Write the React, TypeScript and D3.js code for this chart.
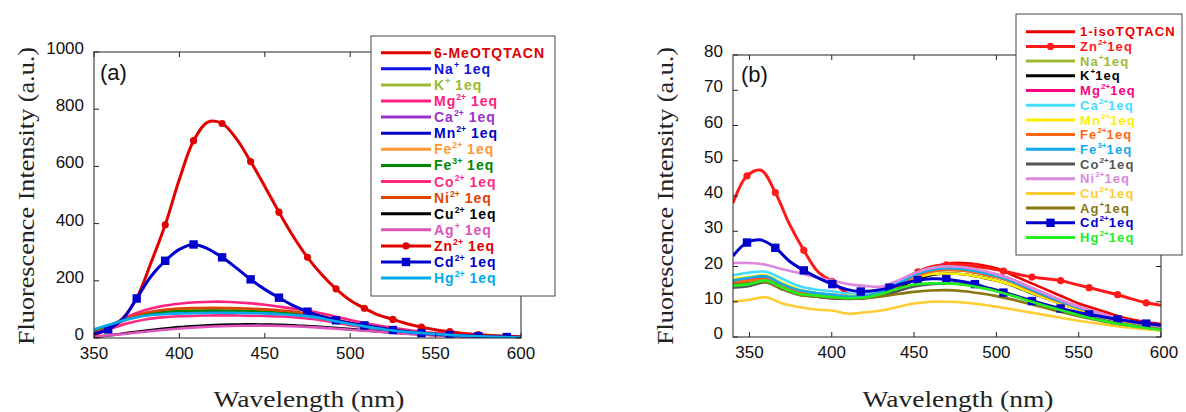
import React from "react";
import * as d3 from "d3";

// ---------------- Panel (a) data ----------------
const wlA = [350,360,370,380,390,400,410,420,430,440,450,460,470,480,490,500,510,520,530,540,550,560,570,580,590,600];
const wlAm = [350,358.3,366.7,375,383.3,391.7,400,408.3,416.7,425,433.3,441.7,450,458.3,466.7,475,483.3,491.7,500,508.3,516.7,525,533.3,541.7,550,558.3,566.7,575,583.3,591.7,600];

const aBase = [25,46,67,82,88,91,92,93,93,92,90,86,81,74,62,50,40,31,24,18,14,10,7,5,3,2];
const aNa = [25,46,67,82,88,91,92,93,93,92,90,86,81,74,62,50,40,31,24,18,14,10,7,5,3,2];
const aK = [22,44,66,80,86,89,90,91,91,90,88,85,80,73,61,49,39,30,23,18,14,10,7,5,3,2];
const aMg = [20,45,75,98,112,120,125,127,126,122,116,108,100,90,77,63,51,40,31,23,17,13,9,6,4,3];
const aCa = [24,46,68,83,90,93,94,95,95,94,92,88,83,75,63,51,41,32,24,18,14,10,7,5,3,2];
const aMn = [26,47,67,81,87,90,91,92,92,91,89,86,81,74,62,50,40,31,24,18,14,10,7,5,3,2];
const aFe2 = [20,42,68,86,95,99,101,102,101,99,96,92,86,78,65,52,41,32,24,18,14,10,7,5,3,2];
const aFe3 = [22,44,68,84,91,94,95,96,95,94,92,88,83,75,63,51,41,32,24,18,14,10,7,5,3,2];
const aCo = [15,33,52,65,72,76,78,79,79,78,77,75,71,65,55,45,36,28,22,16,12,9,6,4,3,2];
const aNi = [18,40,68,88,98,103,105,106,105,103,100,96,90,81,67,53,42,33,25,19,14,10,7,5,3,2];
const aCu = [3,10,18,25,32,38,42,45,47,48,47,46,43,40,36,31,26,21,17,13,10,7,5,4,3,2];
const aAg = [5,10,16,22,28,33,37,40,42,43,43,42,40,37,33,29,25,20,16,12,9,7,5,4,3,2];
const aHg = [30,48,66,78,83,86,87,88,88,87,86,83,79,72,60,49,39,30,23,18,14,10,7,5,3,2];
const aZn = [12,30,68,140,262,396,555,690,755,750,697,617,530,440,355,282,222,172,132,104,80,65,50,38,29,22,16,12,9,6,4];
const aCd = [15,30,65,138,215,270,310,327,312,282,245,205,170,141,113,92,75,62,52,44,36,28,22,17,13,10,8,6,4.5,3,2];

const yTicksA = [0,200,400,600,800,1000];
const xTicksA = [350,400,450,500,550,600];

// ---------------- Panel (b) data ----------------
const wlB = [340,350,360,370,380,390,400,410,420,430,440,450,460,470,480,490,500,510,520,530,540,550,560,570,580,590,600];
const wlBm = [340,348.5,357,365.7,374.3,383,391.6,400.3,409,417.6,426.3,435,443.6,452.3,461,469.6,478.3,487,495.6,504.3,513,521.6,530.3,539,547.6,556.3,565,573.6,582.3,591,600];

const bIso = [15,15.5,16,14.5,12.5,11.5,11,11,11.5,12.5,14.5,17,19.5,20.8,21,20.5,19.5,17.5,15.5,13.5,11.5,9.5,8,6.5,5.2,4.3,3.7];
const bNa = [15,15.5,16,14,12.5,12,11.5,11.2,11.5,12.5,14.5,17,18.5,19,18.8,18,17,15.5,13.5,11.5,9.8,8.2,6.8,5.5,4.4,3.5,2.8];
const bK = [14.5,15,15.8,13.8,12.2,11.8,11.3,11,11.3,12.3,14,16,17.5,18,17.8,17,16,14.5,12.7,11,9.3,7.8,6.4,5.2,4.2,3.3,2.6];
const bMg = [16,16.5,17,15,13.2,12.5,12,11.8,12,13,15,17.5,19.2,19.8,19.6,18.8,17.8,16.2,14.2,12.2,10.3,8.6,7.1,5.8,4.6,3.7,3];
const bCa = [17.5,18.3,18.5,16.5,14.5,13.5,13,12.3,12.2,13.2,15.5,18,19.5,20,19.6,18.8,17.6,16,14,12,10.2,8.5,7,5.7,4.6,3.7,3];
const bMn = [16.5,17,17.5,15.3,13.5,12.5,12,11.7,11.8,12.8,14.5,16.5,17.8,18,17.8,17,16,14.6,12.8,11,9.3,7.8,6.4,5.2,4.2,3.3,2.7];
const bFe2 = [15.5,16,16.5,14.5,12.8,12,11.5,11.2,11.5,12.5,14.5,17,18.5,19,18.8,18,17,15.5,13.5,11.5,9.8,8.2,6.8,5.5,4.4,3.5,2.8];
const bFe3 = [16,16.8,17.2,15,13.3,12.5,12,11.5,11.7,12.8,15,17.5,19,19.5,19.2,18.4,17.3,15.7,13.7,11.7,9.9,8.3,6.9,5.6,4.5,3.6,2.9];
const bCo = [14,14.5,15.5,13.5,12,11.5,11,10.8,11,11.8,13,14.3,15,15.2,15,14.3,13.4,12,10.6,9.2,7.8,6.5,5.3,4.3,3.4,2.7,2.1];
const bNi = [21,21,20.5,19.2,18.2,17,16,15,14.5,14.3,16,18,19.5,20,19.8,19,17.8,16.2,14.2,12.2,10.3,8.6,7.1,5.8,4.6,3.7,3];
const bCu = [10,10.6,11.3,9.5,8.5,7.8,7.5,6.6,7,7.5,8.5,9.5,10,10,9.8,9.3,8.6,7.8,7,6.2,5.4,4.6,3.9,3.3,2.7,2.2,1.8];
const bAg = [15,15.3,15.6,13.6,12,11.5,11.2,11,11,11.5,12.2,12.8,13.2,13.3,13,12.4,11.6,10.6,9.4,8.2,7,5.9,4.9,4,3.3,2.7,2.2];
const bHg = [14.5,15,16,14,12.3,11.8,11.3,11,11.2,12.2,13.7,14.8,15.2,15.2,14.8,14,13,11.7,10.2,8.8,7.5,6.2,5.1,4.1,3.3,2.6,2];
const bZn = [38,45.7,47.3,41,32,24.6,18.5,15.7,12.5,11.5,12,13.8,16.5,18.5,20,20.5,20.5,20,19.5,18.7,17.8,17,16.5,16,15,14,13,12,10.8,9.7,9];
const bCd = [23,26.8,27.5,25.3,21.5,18.9,16.8,15,13.5,12.9,13.2,14,15.2,16.1,16.5,16.4,15.8,15,13.8,12.6,11.4,10.2,9.1,8.1,7.2,6.4,5.7,5,4.4,3.8,3.3];

const yTicksB = [0,10,20,30,40,50,60,70,80];
const xTicksB = [350,400,450,500,550,600];

type Series = { label: string[]; color: string; x: number[]; y: number[]; marker?: "circle" | "square"; width?: number };

const seriesA: Series[] = [
  { label: ["6-MeOTQTACN"], color: "#e00000", x: wlA, y: aBase },
  { label: ["Na", "+", " 1eq"], color: "#1010e0", x: wlA, y: aNa },
  { label: ["K", "+", " 1eq"], color: "#99bb33", x: wlA, y: aK },
  { label: ["Mg", "2+", " 1eq"], color: "#ff2080", x: wlA, y: aMg },
  { label: ["Ca", "2+", " 1eq"], color: "#9933cc", x: wlA, y: aCa },
  { label: ["Mn", "2+", " 1eq"], color: "#0000c8", x: wlA, y: aMn },
  { label: ["Fe", "2+", " 1eq"], color: "#ff9933", x: wlA, y: aFe2 },
  { label: ["Fe", "3+", " 1eq"], color: "#008800", x: wlA, y: aFe3 },
  { label: ["Co", "2+", " 1eq"], color: "#ff2a80", x: wlA, y: aCo },
  { label: ["Ni", "2+", " 1eq"], color: "#dd4400", x: wlA, y: aNi },
  { label: ["Cu", "2+", " 1eq"], color: "#000000", x: wlA, y: aCu },
  { label: ["Ag", "+", " 1eq"], color: "#dd55bb", x: wlA, y: aAg },
  { label: ["Zn", "2+", " 1eq"], color: "#e00000", x: wlAm, y: aZn, marker: "circle", width: 3 },
  { label: ["Cd", "2+", " 1eq"], color: "#0000cc", x: wlAm, y: aCd, marker: "square", width: 3 },
  { label: ["Hg", "2+", " 1eq"], color: "#00aaee", x: wlA, y: aHg },
];

const seriesB: Series[] = [
  { label: ["1-isoTQTACN"], color: "#ee0000", x: wlB, y: bIso },
  { label: ["Zn", "2+", "1eq"], color: "#ff1a1a", x: wlBm, y: bZn, marker: "circle", width: 3 },
  { label: ["Na", "+", "1eq"], color: "#99bb33", x: wlB, y: bNa },
  { label: ["K", "+", "1eq"], color: "#000000", x: wlB, y: bK },
  { label: ["Mg", "2+", "1eq"], color: "#ff0080", x: wlB, y: bMg },
  { label: ["Ca", "2+", "1eq"], color: "#44ddff", x: wlB, y: bCa },
  { label: ["Mn", "2+", "1eq"], color: "#ffee00", x: wlB, y: bMn },
  { label: ["Fe", "2+", "1eq"], color: "#ff6611", x: wlB, y: bFe2 },
  { label: ["Fe", "3+", "1eq"], color: "#11aaee", x: wlB, y: bFe3 },
  { label: ["Co", "2+", "1eq"], color: "#555555", x: wlB, y: bCo },
  { label: ["Ni", "2+", "1eq"], color: "#dd88dd", x: wlB, y: bNi },
  { label: ["Cu", "2+", "1eq"], color: "#ffcc33", x: wlB, y: bCu },
  { label: ["Ag", "+", "1eq"], color: "#887711", x: wlB, y: bAg },
  { label: ["Cd", "2+", "1eq"], color: "#0000cc", x: wlBm, y: bCd, marker: "square", width: 3 },
  { label: ["Hg", "2+", "1eq"], color: "#22ee22", x: wlB, y: bHg },
];

type PanelProps = {
  id: string;
  series: Series[];
  xDomain: [number, number];
  yDomain: [number, number];
  left: number; right: number; top: number; bottom: number;
  xTicks: number[]; yTicks: number[];
  tag: string; tagX: number; tagY: number;
  yLabelX: number; xLabelX: number;
  legend: { x: number; y: number; w: number; h: number; y0: number; step: number; lx0: number; lx1: number; tx: number; fs: number; ls: number; lw: number };
};

function Panel(p: PanelProps) {
  const xs = d3.scaleLinear().domain(p.xDomain).range([p.left, p.right]);
  const ys = d3.scaleLinear().domain(p.yDomain).range([p.bottom, p.top]);
  const tickLen = 5;
  const frame = "#222";
  const sans = "'Liberation Sans', Arial, Helvetica, sans-serif";
  const serif = "'Liberation Serif', 'DejaVu Serif', serif";
  const L = p.legend;
  return (
    <g>
      <defs>
        <clipPath id={`clip-${p.id}`}>
          <rect x={p.left} y={p.top} width={p.right - p.left} height={p.bottom - p.top} />
        </clipPath>
      </defs>
      <g clipPath={`url(#clip-${p.id})`}>
        {p.series.map((s, i) => {
          const pts: [number, number][] = s.x.map((x, j) => [x, s.y[j]]);
          const line = d3.line<[number, number]>()
            .x(d => xs(d[0]))
            .y(d => ys(d[1]))
            .curve(d3.curveCatmullRom.alpha(0.5));
          return (
            <g key={i}>
              <path d={line(pts) || ""} fill="none" stroke={s.color} strokeWidth={s.width ?? 2.6} strokeLinejoin="round" />
              {s.marker === "circle" && pts.filter((_, j) => j % 2 === 1).map((d, j) => (
                <circle key={j} cx={xs(d[0])} cy={ys(d[1])} r={3.6} fill={s.color} />
              ))}
              {s.marker === "square" && pts.filter((_, j) => j % 2 === 1).map((d, j) => (
                <rect key={j} x={xs(d[0]) - 4.2} y={ys(d[1]) - 4.2} width={8.4} height={8.4} fill={s.color} />
              ))}
            </g>
          );
        })}
      </g>
      {/* frame */}
      <rect x={p.left} y={p.top} width={p.right - p.left} height={p.bottom - p.top} fill="none" stroke={frame} strokeWidth={1} />
      {p.xTicks.map((t, i) => (
        <g key={"xt" + i}>
          <line x1={xs(t)} x2={xs(t)} y1={p.bottom} y2={p.bottom - tickLen} stroke={frame} />
          <line x1={xs(t)} x2={xs(t)} y1={p.top} y2={p.top + tickLen} stroke={frame} />
          <text x={xs(t) + (i === p.xTicks.length - 1 && p.id === "b" ? 3 : 0)} y={p.bottom + 21} textAnchor="middle" fontFamily={sans} fontSize={17} fill="#111">{t}</text>
        </g>
      ))}
      {p.yTicks.map((t, i) => (
        <g key={"yt" + i}>
          <line x1={p.left} x2={p.left + tickLen} y1={ys(t)} y2={ys(t)} stroke={frame} />
          <line x1={p.right} x2={p.right - tickLen} y1={ys(t)} y2={ys(t)} stroke={frame} />
          <text x={p.left - 10} y={ys(t) + 2} textAnchor="end" fontFamily={sans} fontSize={17} fill="#111">{t}</text>
        </g>
      ))}
      <text x={p.tagX} y={p.tagY} fontFamily={sans} fontSize={22} fill="#111">{p.tag}</text>
      <text transform={`translate(${p.yLabelX},196) rotate(-90)`} textAnchor="middle" fontFamily={serif} fontSize={24} fill="#222" textLength={298} lengthAdjust="spacingAndGlyphs">Fluorescence Intensity (a.u.)</text>
      <text x={p.xLabelX} y={407} textAnchor="middle" fontFamily={serif} fontSize={24} fill="#222" textLength={191} lengthAdjust="spacingAndGlyphs">Wavelength (nm)</text>
      {/* legend */}
      <rect x={L.x} y={L.y} width={L.w} height={L.h} fill="#fff" stroke="#444" strokeWidth={1} />
      {p.series.map((s, i) => {
        const y = L.y0 + i * L.step;
        const mx = (L.lx0 + L.lx1) / 2;
        return (
          <g key={"lg" + i}>
            <line x1={L.lx0} x2={L.lx1} y1={y} y2={y} stroke={s.color} strokeWidth={L.lw} />
            {s.marker === "circle" && <circle cx={mx} cy={y} r={3.6} fill={s.color} />}
            {s.marker === "square" && <rect x={mx - 4.2} y={y - 4.2} width={8.4} height={8.4} fill={s.color} />}
            <text x={L.tx} y={y + L.fs * 0.36} fontFamily={sans} fontWeight="bold" fontSize={L.fs} letterSpacing={L.ls} fill={s.color}>
              <tspan>{s.label[0]}</tspan>
              {s.label.length > 1 && <tspan dy={-6} fontSize={L.fs * 0.62} letterSpacing={0}>{s.label[1]}</tspan>}
              {s.label.length > 2 && <tspan dy={6}>{s.label[2]}</tspan>}
            </text>
          </g>
        );
      })}
    </g>
  );
}

export default function App() {
  return (
    <svg width={1186} height={412} style={{ position: "absolute", left: 0, top: 0, background: "#fff" }}>
      <rect x={0} y={0} width={1186} height={412} fill="#fff" />
      <Panel
        id="a" series={seriesA} xDomain={[350, 600]} yDomain={[0, 1000]}
        left={94} right={521} top={52} bottom={338}
        xTicks={xTicksA} yTicks={yTicksA}
        tag="(a)" tagX={100} tagY={80}
        yLabelX={34} xLabelX={309}
        legend={{ x: 371, y: 36, w: 184, h: 260, y0: 52.7, step: 16.1, lx0: 381, lx1: 431, tx: 434, fs: 14, ls: 1, lw: 3 }}
      />
      <Panel
        id="b" series={seriesB} xDomain={[340, 600]} yDomain={[0, 80]}
        left={733} right={1161} top={55} bottom={337}
        xTicks={xTicksB} yTicks={yTicksB}
        tag="(b)" tagX={741} tagY={82}
        yLabelX={673} xLabelX={958}
        legend={{ x: 1016, y: 14, w: 166, h: 241, y0: 31.7, step: 14.7, lx0: 1026, lx1: 1075, tx: 1080, fs: 13, ls: 1.1, lw: 3 }}
      />
    </svg>
  );
}
